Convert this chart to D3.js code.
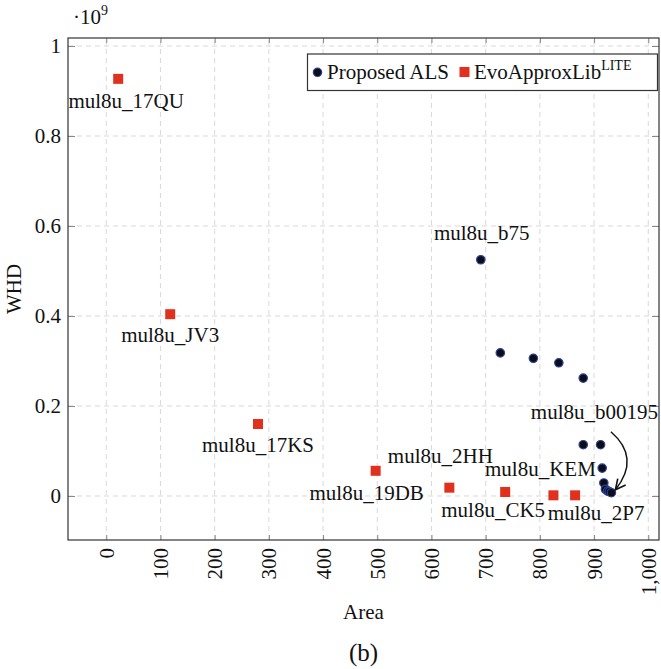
<!DOCTYPE html>
<html>
<head>
<meta charset="utf-8">
<script src="https://cdn.jsdelivr.net/npm/d3@7"></script>
<style>
  body { margin: 0; background: #fff; }
  svg text { font-family: "Liberation Serif", "DejaVu Serif", serif; fill: #111; }
</style>
</head>
<body>
<svg id="chart" width="661" height="669"></svg>
<script>
// WHD values are in units of 1e9 (the axis shows a ·10^9 multiplier)
const proposedArea = [691, 727, 788, 835, 880, 880, 912, 915, 918, 921, 925, 928, 932];
const proposedWHD  = [0.525, 0.318, 0.306, 0.296, 0.262, 0.114, 0.114, 0.062, 0.029, 0.015, 0.011, 0.0096, 0.0073];
const proposedNames = ["mul8u_b75", "", "", "", "", "", "", "", "", "", "", "", "mul8u_b00195"];

const evoNames = ["mul8u_17QU", "mul8u_JV3", "mul8u_17KS", "mul8u_19DB", "mul8u_2HH", "mul8u_CK5", "mul8u_KEM", "mul8u_2P7"];
const evoArea  = [22, 118, 280, 497, 633, 736, 825, 865];
const evoWHD   = [0.927, 0.404, 0.160, 0.056, 0.0185, 0.0089, 0.0015, 0.0015];

const xTicks = [0, 100, 200, 300, 400, 500, 600, 700, 800, 900, 1000];
const yTicks = [0, 0.2, 0.4, 0.6, 0.8, 1];

// label placement, pixel offsets from the mark
const labelOffset = {
  "mul8u_17QU": [8, 29], "mul8u_JV3": [0, 28], "mul8u_17KS": [0, 28],
  "mul8u_19DB": [-9, 29], "mul8u_2HH": [-9, -25], "mul8u_CK5": [-12, 25],
  "mul8u_KEM": [-13, -19], "mul8u_2P7": [21, 25],
  "mul8u_b75": [1, -20], "mul8u_b00195": [-17, -74]
};

const FONT = '"Liberation Serif", "DejaVu Serif", serif';
const FS = "21px";

const margin = { top: 38, right: 2, bottom: 129, left: 68 };
const width = 661, height = 669;
const svg = d3.select("#chart");

const x = d3.scaleLinear().domain([-70.6, 1019.8]).range([margin.left, width - margin.right]);
const y = d3.scaleLinear().domain([-0.0978, 1.0178]).range([height - margin.bottom, margin.top]);

const x0 = margin.left, x1 = width - margin.right;
const y0 = height - margin.bottom, y1 = margin.top;

// grid
const grid = svg.append("g").attr("stroke", "#d9d9d9").attr("stroke-dasharray", "5,4");
grid.selectAll(".gx").data(xTicks).join("line")
  .attr("x1", d => x(d)).attr("x2", d => x(d)).attr("y1", y0).attr("y2", y1);
grid.selectAll(".gy").data(yTicks).join("line")
  .attr("y1", d => y(d)).attr("y2", d => y(d)).attr("x1", x0).attr("x2", x1);

// axes (ticks inside the frame on all sides)
svg.append("g").attr("transform", `translate(0,${y0})`)
  .call(d3.axisBottom(x).tickValues(xTicks).tickSizeInner(-5).tickSizeOuter(0).tickFormat(d3.format(",")))
  .attr("font-family", FONT).attr("font-size", FS)
  .call(g => g.select(".domain").remove())
  .call(g => g.selectAll("line").attr("stroke", "#888"))
  .call(g => g.selectAll("text")
    .attr("transform", "rotate(-90)")
    .attr("text-anchor", "end")
    .attr("x", -8).attr("y", 0).attr("dy", "0.33em")
    .attr("fill", "#111"));

svg.append("g").attr("transform", `translate(0,${y1})`)
  .call(d3.axisTop(x).tickValues(xTicks).tickSizeInner(-5).tickSizeOuter(0).tickFormat(""))
  .call(g => g.select(".domain").remove())
  .call(g => g.selectAll("line").attr("stroke", "#888"));

svg.append("g").attr("transform", `translate(${x0},0)`)
  .call(d3.axisLeft(y).tickValues(yTicks).tickSizeInner(-7).tickSizeOuter(0).tickPadding(7).tickFormat(d3.format("")))
  .attr("font-family", FONT).attr("font-size", FS)
  .call(g => g.select(".domain").remove())
  .call(g => g.selectAll("line").attr("stroke", "#888"))
  .call(g => g.selectAll("text").attr("fill", "#111"));

svg.append("g").attr("transform", `translate(${x1},0)`)
  .call(d3.axisRight(y).tickValues(yTicks).tickSizeInner(-7).tickSizeOuter(0).tickFormat(""))
  .call(g => g.select(".domain").remove())
  .call(g => g.selectAll("line").attr("stroke", "#888"));

// frame
svg.append("rect").attr("x", x0).attr("y", y1).attr("width", x1 - x0).attr("height", y0 - y1)
  .attr("fill", "none").attr("stroke", "#333").attr("stroke-width", 1.2);

// multiplier
svg.append("text").attr("x", 73).attr("y", 24).attr("font-size", FS)
  .text("·10").append("tspan").attr("dy", -9).attr("font-size", "14px").text("9");

// axis titles
svg.append("text").attr("transform", `translate(21,${(y0 + y1) / 2}) rotate(-90)`)
  .attr("text-anchor", "middle").attr("font-size", FS).text("WHD");
svg.append("text").attr("x", (x0 + x1) / 2).attr("y", 619)
  .attr("text-anchor", "middle").attr("font-size", FS).text("Area");
svg.append("text").attr("x", (x0 + x1) / 2).attr("y", 661)
  .attr("text-anchor", "middle").attr("font-size", "25px").text("(b)");

const proposed = proposedArea.map((a, i) => ({ x: a, y: proposedWHD[i], name: proposedNames[i] }));
const evo = evoArea.map((a, i) => ({ x: a, y: evoWHD[i], name: evoNames[i] }));

// marks
const red = "#e0301e", blueStroke = "#2b3f9e", dark = "#0d0d14";
svg.append("g").selectAll("rect").data(evo).join("rect")
  .attr("x", d => x(d.x) - 5).attr("y", d => y(d.y) - 5)
  .attr("width", 10).attr("height", 10).attr("fill", red);
svg.append("g").selectAll("circle").data(proposed).join("circle")
  .attr("cx", d => x(d.x)).attr("cy", d => y(d.y)).attr("r", 4.2)
  .attr("fill", dark).attr("stroke", blueStroke).attr("stroke-width", 1.2);

// labels
svg.append("g").selectAll("text").data(evo.concat(proposed.filter(d => d.name))).join("text")
  .attr("x", d => x(d.x) + labelOffset[d.name][0])
  .attr("y", d => y(d.y) + labelOffset[d.name][1])
  .attr("text-anchor", "middle").attr("font-size", FS)
  .text(d => d.name);

// curved arrow from mul8u_b00195 label to its point
const last = proposed[proposed.length - 1];
svg.append("defs").append("marker").attr("id", "head")
  .attr("viewBox", "0 0 10 10").attr("refX", 9).attr("refY", 5)
  .attr("markerWidth", 9).attr("markerHeight", 9).attr("orient", "auto")
  .append("path").attr("d", "M1,1 L9,5 L1,9").attr("fill", "none").attr("stroke", "#111").attr("stroke-width", 1.3);
const sx = x(last.x) - 0.5, sy = y(last.y) - 61;
const ex = x(last.x) + 4, ey = y(last.y) - 3;
svg.append("path")
  .attr("d", `M${sx},${sy} Q${sx + 30},${sy + 26} ${ex},${ey}`)
  .attr("fill", "none").attr("stroke", "#111").attr("stroke-width", 1.4)
  .attr("marker-end", "url(#head)");

// legend
const lg = svg.append("g").attr("font-size", FS);
lg.append("rect").attr("x", 307.5).attr("y", 54).attr("width", 350).attr("height", 36.5)
  .attr("fill", "#fff").attr("stroke", "#333").attr("stroke-width", 1.2);
lg.append("circle").attr("cx", 317.5).attr("cy", 72.3).attr("r", 4.2)
  .attr("fill", dark).attr("stroke", blueStroke).attr("stroke-width", 1.2);
lg.append("text").attr("x", 327).attr("y", 79).text("Proposed ALS");
lg.append("rect").attr("x", 459.5).attr("y", 67).attr("width", 10).attr("height", 10).attr("fill", red);
lg.append("text").attr("x", 474).attr("y", 79)
  .text("EvoApproxLib")
  .append("tspan").attr("dy", -9).attr("font-size", "14px").text("LITE");
</script>
</body>
</html>
